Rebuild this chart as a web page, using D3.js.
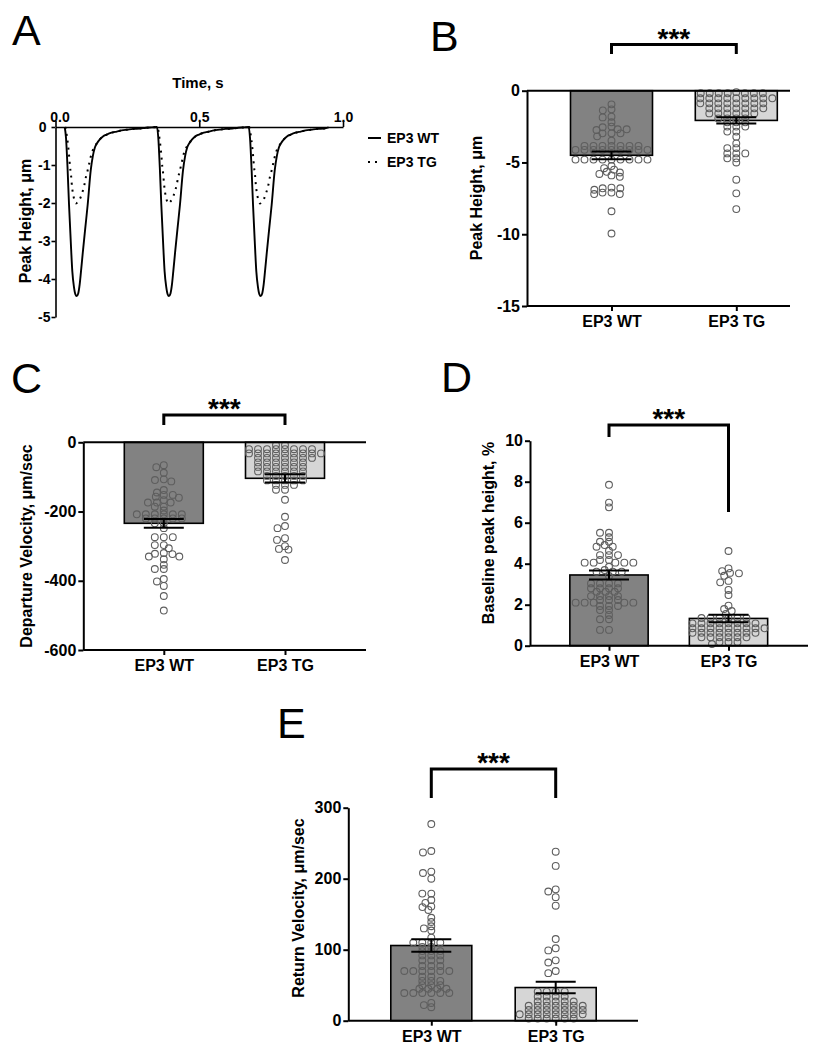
<!DOCTYPE html>
<html><head><meta charset="utf-8">
<script src="https://cdn.jsdelivr.net/npm/d3@7"></script>
<style>
body{margin:0;background:#fff;}
svg{display:block;}
</style></head><body>
<svg id="fig" width="831" height="1050"></svg>
<script>
// ---------------- DATA ----------------
const categories = ["EP3 WT", "EP3 TG"];
const panelLetters = ["A", "B", "C", "D", "E"];
const sigLabel = "***";

// Panel A: averaged traces [time s, peak height um]
const traceTimeTicks = [0, 0.5, 1.0];
const traceHeightTicks = [0, -1, -2, -3, -4, -5];
const traceWT = [
 [0.032,0],[0.0365,-0.28],[0.042,-1.1],[0.047,-2.04],[0.053,-3.0],[0.0585,-3.8],[0.064,-4.2],[0.069,-4.4],[0.0737,-4.45],[0.079,-4.38],[0.084,-4.15],[0.0887,-3.8],[0.095,-3.3],[0.103,-2.7],[0.112,-2.04],[0.1224,-1.15],[0.130,-0.76],[0.137,-0.54],[0.145,-0.42],[0.155,-0.32],[0.165,-0.25],[0.178,-0.20],[0.195,-0.15],[0.213,-0.12],[0.230,-0.09],[0.250,-0.07],[0.270,-0.05],[0.294,-0.04],[0.315,-0.02],[0.335,-0.01],
 [0.353,0],[0.3575,-0.28],[0.363,-1.1],[0.368,-2.04],[0.374,-3.0],[0.3795,-3.8],[0.385,-4.2],[0.390,-4.4],[0.3947,-4.45],[0.400,-4.38],[0.405,-4.15],[0.4097,-3.8],[0.416,-3.3],[0.424,-2.7],[0.433,-2.04],[0.4434,-1.15],[0.451,-0.76],[0.458,-0.54],[0.466,-0.42],[0.476,-0.32],[0.486,-0.25],[0.499,-0.20],[0.516,-0.15],[0.534,-0.12],[0.551,-0.09],[0.571,-0.07],[0.591,-0.05],[0.615,-0.04],[0.636,-0.02],[0.656,-0.01],
 [0.672,0],[0.6765,-0.28],[0.682,-1.1],[0.687,-2.04],[0.693,-3.0],[0.6985,-3.8],[0.704,-4.2],[0.709,-4.4],[0.7137,-4.45],[0.719,-4.38],[0.724,-4.15],[0.7287,-3.8],[0.735,-3.3],[0.743,-2.7],[0.752,-2.04],[0.7624,-1.15],[0.770,-0.76],[0.777,-0.54],[0.785,-0.42],[0.795,-0.32],[0.805,-0.25],[0.818,-0.20],[0.835,-0.15],[0.853,-0.12],[0.870,-0.09],[0.890,-0.07],[0.910,-0.05],[0.934,-0.04],[0.950,-0.01]
];
const traceTG = [
 [0.034,0],[0.039,-0.21],[0.0435,-0.47],[0.046,-0.65],[0.048,-0.82],[0.0504,-1.04],[0.054,-1.26],[0.0563,-1.48],[0.0597,-1.70],[0.0643,-1.88],[0.0713,-2.01],[0.078,-1.97],[0.0852,-1.89],[0.0933,-1.72],[0.1003,-1.53],[0.106,-1.31],[0.1107,-1.18],[0.1154,-1.02],[0.120,-0.87],[0.1246,-0.72],[0.1316,-0.58],[0.137,-0.50],[0.145,-0.42],[0.155,-0.32],[0.165,-0.25],[0.178,-0.20],[0.195,-0.15],[0.213,-0.12],[0.230,-0.09],[0.250,-0.07],[0.270,-0.05],[0.294,-0.04],[0.315,-0.02],[0.335,-0.01],
 [0.355,0],[0.360,-0.21],[0.3645,-0.47],[0.367,-0.65],[0.369,-0.82],[0.3714,-1.04],[0.375,-1.26],[0.3773,-1.48],[0.3807,-1.70],[0.3853,-1.88],[0.3923,-2.01],[0.399,-1.97],[0.4062,-1.89],[0.4143,-1.72],[0.4213,-1.53],[0.427,-1.31],[0.4317,-1.18],[0.4364,-1.02],[0.441,-0.87],[0.4456,-0.72],[0.4526,-0.58],[0.458,-0.50],[0.466,-0.42],[0.476,-0.32],[0.486,-0.25],[0.499,-0.20],[0.516,-0.15],[0.534,-0.12],[0.551,-0.09],[0.571,-0.07],[0.591,-0.05],[0.615,-0.04],[0.636,-0.02],[0.656,-0.01],
 [0.674,0],[0.679,-0.21],[0.6835,-0.47],[0.686,-0.65],[0.688,-0.82],[0.6904,-1.04],[0.694,-1.26],[0.6963,-1.48],[0.6997,-1.70],[0.7043,-1.88],[0.7113,-2.01],[0.718,-1.97],[0.7252,-1.89],[0.7333,-1.72],[0.7403,-1.53],[0.746,-1.31],[0.7507,-1.18],[0.7554,-1.02],[0.760,-0.87],[0.7646,-0.72],[0.7716,-0.58],[0.777,-0.50],[0.785,-0.42],[0.795,-0.32],[0.805,-0.25],[0.818,-0.20],[0.835,-0.15],[0.853,-0.12],[0.870,-0.09],[0.890,-0.07],[0.910,-0.05],[0.934,-0.04],[0.950,-0.01]
];

// Panel B: Peak Height, um
const peakTicks = [0, -5, -10, -15];
const peakMeans = [-4.5, -2.07];
const peakSEM = [0.27, 0.22];
const peakWT = [-0.95,-1.30,-1.37,-1.81,-1.86,-2.20,-2.50,-2.55,-2.69,-2.69,-2.74,-2.97,-2.97,-2.97,-3.18,-3.48,-3.85,-3.85,-3.85,-3.85,-3.85,-3.85,-3.85,-4.12,-4.12,-4.12,-4.12,-4.12,-4.12,-4.12,-4.12,-4.12,-4.80,-4.80,-4.80,-4.80,-4.80,-4.80,-4.80,-4.80,-4.80,-5.25,-5.40,-5.50,-5.65,-5.70,-5.80,-5.90,-6.00,-6.75,-6.80,-6.80,-6.90,-7.10,-7.10,-7.20,-7.20,-8.40,-9.95];
const peakTG = [-0.10,-0.18,-0.18,-0.18,-0.18,-0.18,-0.18,-0.18,-0.53,-0.53,-0.53,-0.53,-0.53,-0.53,-0.53,-0.53,-0.53,-0.88,-0.88,-0.88,-0.88,-0.88,-0.88,-0.88,-0.88,-1.23,-1.23,-1.23,-1.23,-1.23,-1.23,-1.23,-1.58,-1.58,-1.58,-1.58,-1.58,-1.58,-1.93,-1.93,-1.93,-1.93,-2.20,-2.20,-2.20,-2.50,-2.50,-2.50,-2.85,-2.85,-3.20,-3.67,-4.00,-4.00,-4.37,-4.37,-4.37,-4.71,-4.71,-5.00,-6.20,-7.15,-8.25];

// Panel C: Departure Velocity, um/sec
const depTicks = [0, -200, -400, -600];
const depMeans = [-234, -104];
const depSEM = [12.5, 12];
const depWT = [-66,-72,-88,-107,-109,-113,-138,-145,-152,-152,-157,-160,-167,-174,-174,-174,-186,-186,-197,-208,-208,-208,-208,-208,-208,-220,-220,-220,-220,-220,-234,-234,-248,-274,-274,-274,-297,-297,-306,-320,-322,-323,-330,-330,-338,-354,-366,-366,-395,-402,-415,-444,-486];
const depTG = [-8,-8,-20,-20,-20,-20,-20,-20,-20,-20,-32,-32,-32,-32,-32,-32,-32,-32,-32,-45,-45,-45,-45,-45,-45,-45,-58,-58,-58,-58,-58,-58,-71,-71,-71,-71,-71,-71,-84,-84,-84,-84,-84,-84,-97,-97,-97,-97,-97,-110,-110,-110,-110,-110,-123,-123,-123,-137,-137,-166,-215,-242,-248,-277,-282,-300,-308,-310,-340];

// Panel D: Baseline peak height, %
const baseTicks = [0, 2, 4, 6, 8, 10];
const baseMeans = [3.45, 1.33];
const baseSEM = [0.22, 0.18];
const baseWT = [7.85,6.98,6.75,5.51,5.51,5.29,5.07,5.07,4.91,4.83,4.83,4.63,4.42,4.42,4.42,4.18,4.18,4.05,4.05,4.05,4.05,4.05,3.85,3.69,3.61,3.61,3.61,3.40,3.04,3.04,3.04,3.04,2.80,2.80,2.80,2.80,2.63,2.63,2.63,2.42,2.42,2.42,2.42,2.23,2.23,2.23,2.10,2.10,2.10,2.10,2.10,1.94,1.94,1.94,1.74,1.74,1.50,1.29,1.29,0.77,0.77];
const baseTG = [4.62,3.77,3.64,3.53,3.55,3.41,3.16,3.09,2.72,2.47,1.95,1.79,1.69,1.55,1.35,1.35,1.35,1.35,1.35,1.35,1.09,1.09,1.09,1.09,1.09,1.09,1.09,1.09,0.85,0.85,0.85,0.85,0.85,0.85,0.85,0.85,0.85,0.63,0.63,0.63,0.63,0.63,0.63,0.63,0.63,0.41,0.41,0.41,0.41,0.41,0.41,0.18,0.18,0.18,0.08];

// Panel E: Return Velocity, um/sec
const retTicks = [0, 100, 200, 300];
const retMeans = [105.9, 46.7];
const retSEM = [8.7, 8.2];
const retWT = [277,239,237,210,208,200,179,179,170,166,161,160,156,145,139,133,130,127,117,110,110,110,110,104,104,98,98,98,92,92,92,85,85,85,77,77,77,70,70,70,70,70,70,62,62,56,56,56,50,50,50,45,45,45,45,39,39,39,39,39,39,25,22,19];
const retTG = [238,218,185,182,174,162,115,102,99,85,82,70,67,41,41,41,41,34,34,34,34,27,27,27,27,27,21,21,21,21,21,21,21,15,15,15,15,15,15,15,9,9,9,9,9,9,9,9,3,3,3,3,3,3];

// ---------------- DRAWING ----------------
const FONT = "'Liberation Sans', Arial, Helvetica, sans-serif";
const svg = d3.select("#fig");
const barFills = ["#828282", "#d6d6d6"];
const R = 3.4;

function styleAxis(g, fs, sw) {
  g.attr("font-family", FONT).attr("font-size", fs).attr("font-weight", "bold");
  g.selectAll("path,line").attr("stroke", "#000").attr("stroke-width", sw);
  g.selectAll("text").attr("fill", "#000");
}

// greedy beeswarm: horizontal spacing D, vertical distances weighted by K
function swarm(vals, y) {
  const D = 9, K = 2.4;
  const pts = vals.map(v => ({ v, py: y(v), dx: 0 }));
  const order = pts.slice().sort((a, b) => a.py - b.py);
  const placed = [];
  order.forEach(p => {
    const blocked = [];
    placed.forEach(q => {
      const dy = K * Math.abs(q.py - p.py);
      if (dy < D) { const w = Math.sqrt(D * D - dy * dy); blocked.push([q.dx - w, q.dx + w]); }
    });
    const cands = [0];
    blocked.forEach(b => cands.push(b[0], b[1]));
    cands.sort((a, b) => (Math.abs(a) - Math.abs(b)) || (a - b));
    for (const c of cands) {
      if (blocked.every(b => c <= b[0] + 1e-9 || c >= b[1] - 1e-9)) { p.dx = c; break; }
    }
    placed.push(p);
  });
  return pts;
}

// Panel letters
const letterPos = [[12, 45], [430, 51], [11, 393], [441, 392], [277, 738]];
svg.selectAll("text.letter").data(panelLetters).join("text")
  .attr("class", "letter")
  .attr("x", (d, i) => letterPos[i][0]).attr("y", (d, i) => letterPos[i][1])
  .attr("font-family", FONT).attr("font-size", 43).attr("fill", "#000")
  .text(d => d);

// ---- Panel A ----
(function () {
  const g = svg.append("g");
  const x = d3.scaleLinear().domain([0, 1]).range([55.5, 343]);
  const y = d3.scaleLinear().domain([-5, 0]).range([317, 127]);
  const line = d3.line().x(d => x(d[0])).y(d => y(d[1])).curve(d3.curveMonotoneX);
  g.append("path").datum(traceWT).attr("d", line).attr("fill", "none")
    .attr("stroke", "#000").attr("stroke-width", 1.9);
  g.append("path").datum(traceTG).attr("d", line).attr("fill", "none")
    .attr("stroke", "#000").attr("stroke-width", 2).attr("stroke-dasharray", "2,5");
  const xa = g.append("g").attr("transform", `translate(0,${y(0)})`)
    .call(d3.axisTop(x).tickValues(traceTimeTicks).tickFormat(d3.format(".1f")).tickSizeInner(6).tickSizeOuter(0).tickPadding(-1));
  styleAxis(xa, 14, 1.6);
  xa.selectAll(".tick text").filter(d => d === 0).attr("dx", 4);
  const ya = g.append("g").attr("transform", `translate(${x(0)},0)`)
    .call(d3.axisLeft(y).tickValues(traceHeightTicks).tickFormat(d => String(d)).tickSizeInner(4).tickSizeOuter(0).tickPadding(1));
  styleAxis(ya, 14, 1.6);
  ya.selectAll(".tick text").filter(d => d === 0).attr("dx", -4);
  g.append("text").attr("x", 198).attr("y", 88).attr("text-anchor", "middle")
    .attr("font-family", FONT).attr("font-size", 15).attr("font-weight", "bold").text("Time, s");
  g.append("text").attr("transform", "translate(31,221) rotate(-90)").attr("text-anchor", "middle")
    .attr("font-family", FONT).attr("font-size", 16).attr("font-weight", "bold").text("Peak Height, μm");
  const lg = g.append("g");
  const ly = [138, 162];
  lg.selectAll("line").data(categories).join("line")
    .attr("x1", 368).attr("x2", 381).attr("y1", (d, i) => ly[i]).attr("y2", (d, i) => ly[i])
    .attr("stroke", "#000").attr("stroke-width", 2)
    .attr("stroke-dasharray", (d, i) => i ? "2,5" : null);
  lg.selectAll("text").data(categories).join("text")
    .attr("x", 387).attr("y", (d, i) => ly[i] + 5)
    .attr("font-family", FONT).attr("font-size", 14).attr("font-weight", "bold").text(d => d);
})();

// ---- Bar panels ----
function barPanel(c) {
  const g = svg.append("g");
  const y = d3.scaleLinear().domain(c.domain).range(c.yRange);
  const x = d3.scalePoint().domain(categories).range(c.centers);
  const base = y(0);
  const axisY = Math.max(c.yRange[0], c.yRange[1]);
  g.selectAll("rect").data(categories).join("rect")
    .attr("x", d => x(d) - c.barW / 2).attr("width", c.barW)
    .attr("y", (d, i) => Math.min(y(c.means[i]), base))
    .attr("height", (d, i) => Math.abs(y(c.means[i]) - base))
    .attr("fill", (d, i) => barFills[i]).attr("stroke", "#000").attr("stroke-width", 1.6);
  c.points.forEach((vals, i) => {
    g.append("g").selectAll("circle").data(swarm(vals, y)).join("circle")
      .attr("cx", d => x(categories[i]) + d.dx).attr("cy", d => d.py).attr("r", R)
      .attr("fill", "none").attr("stroke", "#5e5e5e").attr("stroke-width", 1.1);
  });
  const eb = g.append("g").attr("stroke", "#000").attr("stroke-width", 2);
  categories.forEach((cat, i) => {
    const cx = x(cat), hi = y(c.means[i] + c.sems[i]), lo = y(c.means[i] - c.sems[i]);
    eb.append("line").attr("x1", cx).attr("x2", cx).attr("y1", hi).attr("y2", lo);
    eb.append("line").attr("x1", cx - 20).attr("x2", cx + 20).attr("y1", hi).attr("y2", hi);
    eb.append("line").attr("x1", cx - 20).attr("x2", cx + 20).attr("y1", lo).attr("y2", lo);
  });
  if (c.negative) {
    g.append("line").attr("x1", c.axisX).attr("x2", c.xEnd).attr("y1", base).attr("y2", base)
      .attr("stroke", "#000").attr("stroke-width", 2);
  }
  const ya = g.append("g").attr("transform", `translate(${c.axisX},0)`)
    .call(d3.axisLeft(y).tickValues(c.ticks).tickFormat(d => String(d)).tickSizeInner(5).tickSizeOuter(0).tickPadding(2));
  styleAxis(ya, 16, 2);
  const xa = g.append("g").attr("transform", `translate(0,${axisY})`)
    .call(d3.axisBottom(x).tickSizeInner(5).tickSizeOuter(0).tickPadding(5));
  xa.select(".domain").remove();
  xa.append("line").attr("x1", c.axisX).attr("x2", c.xEnd).attr("y1", 0).attr("y2", 0);
  styleAxis(xa, 16, 2);
  g.append("text").attr("transform", `translate(${c.label[1]},${c.label[2]}) rotate(-90)`)
    .attr("text-anchor", "middle").attr("font-family", FONT).attr("font-size", 16)
    .attr("font-weight", "bold").text(c.label[0]);
  const x1 = x(categories[0]), x2 = x(categories[1]);
  g.append("path").attr("d", `M${x1},${c.bracket[1]}V${c.bracket[0]}H${x2}V${c.bracket[2]}`)
    .attr("fill", "none").attr("stroke", "#000").attr("stroke-width", 3);
  g.append("text").attr("x", (x1 + x2) / 2).attr("y", c.starY).attr("text-anchor", "middle")
    .attr("font-family", FONT).attr("font-size", 28).attr("font-weight", "bold").text(sigLabel);
}

barPanel({ domain: [0, -15], yRange: [90.7, 306], axisX: 527, xEnd: 790, centers: [611.5, 736.3], barW: 82,
  ticks: peakTicks, means: peakMeans, sems: peakSEM, points: [peakWT, peakTG], negative: true,
  label: ["Peak Height, μm", 482, 198], bracket: [44.5, 54, 54], starY: 48 });
barPanel({ domain: [0, -600], yRange: [442.3, 650], axisX: 83.3, xEnd: 366, centers: [163.8, 285], barW: 79,
  ticks: depTicks, means: depMeans, sems: depSEM, points: [depWT, depTG], negative: true,
  label: ["Departure Velocity, μm/sec", 32, 546], bracket: [415, 425, 425], starY: 418 });
barPanel({ domain: [0, 10], yRange: [645.7, 440.7], axisX: 530, xEnd: 808, centers: [609, 728.5], barW: 78.3,
  ticks: baseTicks, means: baseMeans, sems: baseSEM, points: [baseWT, baseTG], negative: false,
  label: ["Baseline peak height, %", 494, 533], bracket: [425, 437, 512], starY: 428 });
barPanel({ domain: [0, 300], yRange: [1020.7, 807.7], axisX: 348.3, xEnd: 638, centers: [431.3, 555.7], barW: 81,
  ticks: retTicks, means: retMeans, sems: retSEM, points: [retWT, retTG], negative: false,
  label: ["Return Velocity, μm/sec", 304, 908], bracket: [769, 798, 798], starY: 772 });
</script>
</body></html>
